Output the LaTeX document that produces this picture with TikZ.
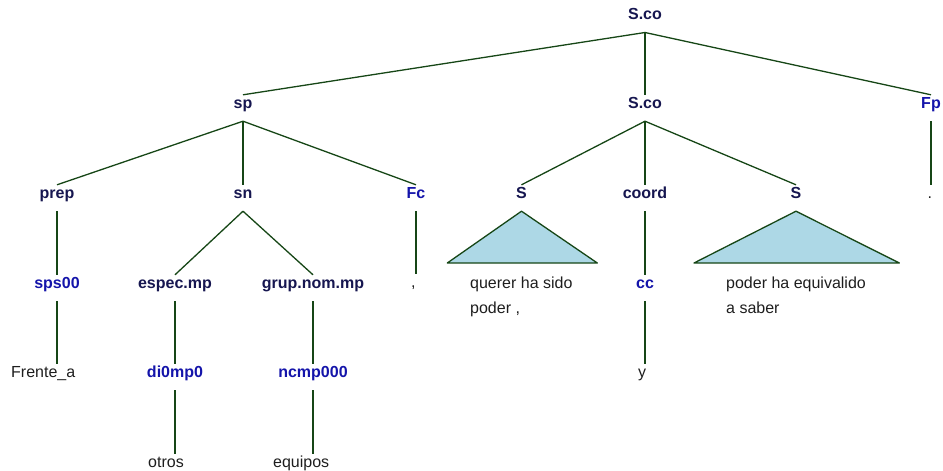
\documentclass[tikz,border=0pt]{standalone}
\usepackage{fontspec}
\setmainfont{Liberation Sans}
\definecolor{navy}{RGB}{22,22,80}
\definecolor{tagblue}{RGB}{20,20,170}
\definecolor{edgegreen}{RGB}{22,70,22}
\definecolor{leafgray}{RGB}{30,30,30}
\definecolor{trifill}{RGB}{173,216,230}
\tikzset{
  lbl/.style={anchor=base, inner xsep=0pt, inner ysep=2pt, text height=11pt, text depth=11pt,
    font=\fontsize{16}{18}\selectfont\bfseries, text=navy},
  tag/.style={lbl, text=tagblue},
  leaf/.style={anchor=base west, inner xsep=0pt, inner ysep=2pt, text height=11pt, text depth=3pt,
    font=\fontsize{16}{18}\selectfont, text=leafgray},
  leafml/.style={anchor=base west, inner sep=0pt, align=left,
    font=\fontsize{16}{25}\selectfont, text=leafgray},
  edge/.style={draw=edgegreen, line width=1.3pt},
  tri/.style={draw=edgegreen, line width=1.3pt, fill=trifill, line join=round}
}
\begin{document}
\begin{tikzpicture}[x=1pt,y=-1pt]
\useasboundingbox (0,0) rectangle (943,471);
% level 1
\node[lbl] (top) at (645,19.3) {S.co};
% level 2
\node[lbl] (sp) at (243,108) {sp};
\node[lbl] (sco) at (645,108) {S.co};
\node[tag] (Fp) at (931,108) {Fp};
% level 3
\node[lbl] (prep) at (57,198) {prep};
\node[lbl] (sn) at (243,198) {sn};
\node[tag] (Fc) at (416,198) {Fc};
\node[lbl] (S1) at (521.5,198) {S};
\node[lbl] (coord) at (645,198) {coord};
\node[lbl] (S2) at (796,198) {S};
\node[leaf] (dot) at (927.5,198) {.};
% level 4
\node[tag] (sps) at (57,288) {sps00};
\node[lbl] (espec) at (175,288) {espec.mp};
\node[lbl] (grup) at (313,288) {grup.nom.mp};
\node[leaf] (comma) at (411,287) {,};
\node[leafml] (S1txt) at (470,313) {querer ha sido\\poder ,};
\node[tag] (cc) at (645,288) {cc};
\node[leafml] (S2txt) at (726,313) {poder ha equivalido\\a saber};
% level 5
\node[leaf] (frente) at (11,377) {Frente\_a};
\node[tag] (di) at (175,377) {di0mp0};
\node[tag] (nc) at (313,377) {ncmp000};
\node[leaf] (y) at (638,377) {y};
% level 6
\node[leaf] (otros) at (148,467) {otros};
\node[leaf] (equipos) at (273,467) {equipos};
% triangles
\coordinate (S1l) at (447.3,263);
\coordinate (S1r) at (597.3,263);
\coordinate (S2l) at (694,263);
\coordinate (S2r) at (899.3,263);
\filldraw[tri] (S1.south) -- (S1r) -- (S1l) -- cycle;
\filldraw[tri] (S2.south) -- (S2r) -- (S2l) -- cycle;
% edges
\draw[edge] (top.south) -- (sp.north);
\draw[edge] (top.south) -- (sco.north);
\draw[edge] (top.south) -- (Fp.north);
\draw[edge] (sp.south) -- (prep.north);
\draw[edge] (sp.south) -- (sn.north);
\draw[edge] (sp.south) -- (Fc.north);
\draw[edge] (sco.south) -- (S1.north);
\draw[edge] (sco.south) -- (coord.north);
\draw[edge] (sco.south) -- (S2.north);
\draw[edge] (Fp.south) -- (Fp.south |- dot.north);
\draw[edge] (prep.south) -- (sps.north);
\draw[edge] (sn.south) -- (espec.north);
\draw[edge] (sn.south) -- (grup.north);
\draw[edge] (Fc.south) -- (Fc.south |- comma.north);
\draw[edge] (coord.south) -- (cc.north);
\draw[edge] (sps.south) -- (sps.south |- frente.north);
\draw[edge] (espec.south) -- (di.north);
\draw[edge] (grup.south) -- (nc.north);
\draw[edge] (cc.south) -- (cc.south |- y.north);
\draw[edge] (di.south) -- (di.south |- otros.north);
\draw[edge] (nc.south) -- (nc.south |- equipos.north);
\end{tikzpicture}
\end{document}
